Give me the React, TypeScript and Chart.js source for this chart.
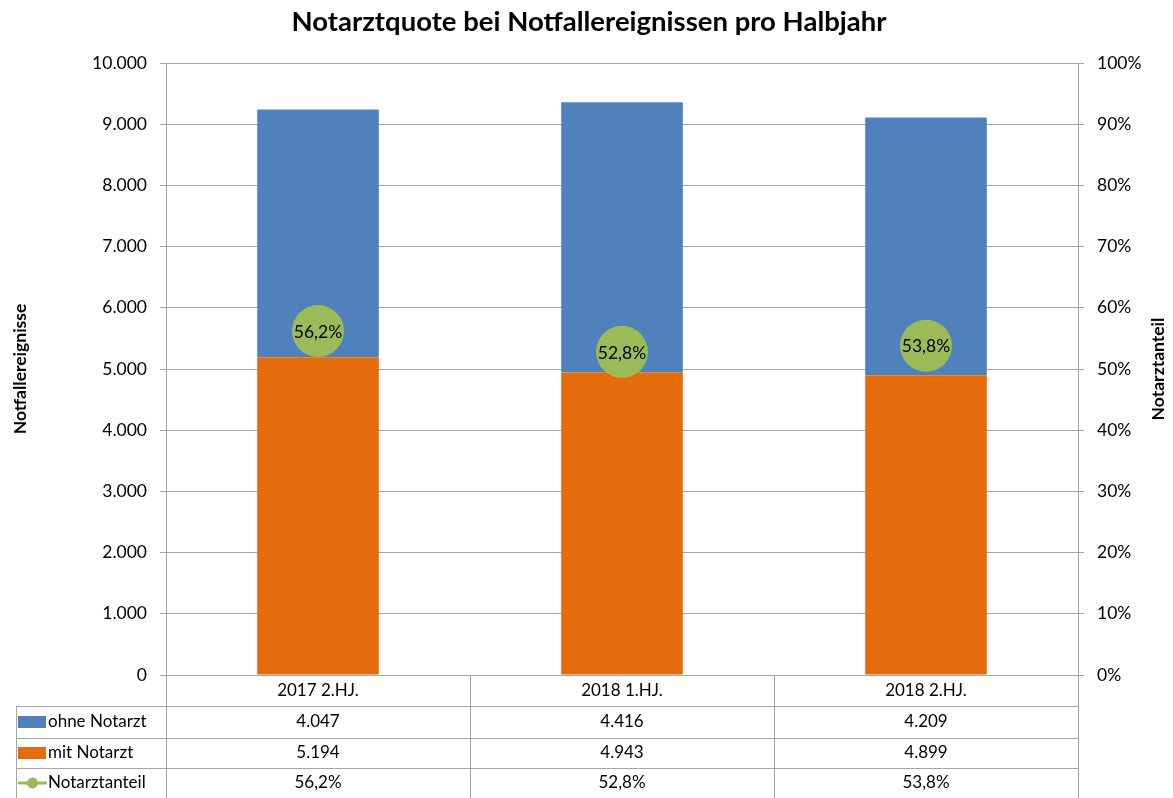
import React, { useEffect, useRef } from "react";
import { Chart, registerables } from "chart.js";

Chart.register(...registerables);

const categories = ["2017 2.HJ.", "2018 1.HJ.", "2018 2.HJ."];
const ohneNotarzt = [4047, 4416, 4209];
const mitNotarzt = [5194, 4943, 4899];
const notarztanteil = [56.2, 52.8, 53.8];
const seriesNames = ["ohne Notarzt", "mit Notarzt", "Notarztanteil"];

const BLUE = "#4F81BD";
const ORANGE = "#E46C0A";
const GREEN = "#9BBB59";
const GRID = "#A6A6A6";
const FONT = "Lato, 'Open Sans', sans-serif";

const fmtThousands = (v: number) => {
  const s = Math.round(v).toString();
  return s.replace(/\B(?=(\d{3})+(?!\d))/g, ".");
};
const fmtPct = (v: number) => v.toFixed(1).replace(".", ",") + "%";

const tablePlugin = {
  id: "tablePlugin",
  afterDraw(chart: any) {
    const ctx = chart.ctx;
    const area = chart.chartArea;
    const x = chart.scales.x;
    const W = chart.width;
    const H = chart.height;
    ctx.save();

    // title
    ctx.fillStyle = "#000";
    ctx.font = `bold 27.5px ${FONT}`;
    ctx.textAlign = "center";
    ctx.textBaseline = "middle";
    ctx.fillText("Notarztquote bei Notfallereignissen pro Halbjahr", 589, 22);

    // axis titles
    ctx.font = `bold 17.5px ${FONT}`;
    ctx.save();
    ctx.translate(20, (area.top + area.bottom) / 2);
    ctx.rotate(-Math.PI / 2);
    ctx.fillText("Notfallereignisse", 0, 0);
    ctx.restore();
    ctx.save();
    ctx.translate(1158, (area.top + area.bottom) / 2);
    ctx.rotate(-Math.PI / 2);
    ctx.fillText("Notarztanteil", 0, 0);
    ctx.restore();

    // point labels
    const meta = chart.getDatasetMeta(2);
    ctx.font = `17.5px ${FONT}`;
    meta.data.forEach((pt: any, i: number) => {
      ctx.fillText(fmtPct(notarztanteil[i]), pt.x, pt.y + 1);
    });

    // table
    const top = area.bottom;
    const rowH = [31, 32, 30, 30];
    const rows: number[] = [top];
    rowH.forEach((h) => rows.push(rows[rows.length - 1] + h));
    const left0 = 16;
    const n = categories.length;
    const colW = (area.right - area.left) / n;
    ctx.strokeStyle = GRID;
    ctx.lineWidth = 1;
    ctx.beginPath();
    for (let c = 0; c <= n; c++) {
      const cx = Math.round(area.left + c * colW) + 0.5;
      ctx.moveTo(cx, top);
      ctx.lineTo(cx, H);
    }
    ctx.moveTo(left0 + 0.5, rows[1]);
    ctx.lineTo(left0 + 0.5, H);
    for (let r = 1; r <= 3; r++) {
      const ry = Math.round(rows[r]) + 0.5;
      ctx.moveTo(left0, ry);
      ctx.lineTo(area.right, ry);
    }
    ctx.stroke();

    ctx.fillStyle = "#000";
    ctx.font = `17px ${FONT}`;
    ctx.textAlign = "center";
    categories.forEach((c, i) => {
      const cx = x.getPixelForValue(i);
      const cy = (rows[0] + rows[1]) / 2;
      ctx.fillText(c, cx, cy);
    });
    const tableRows = [
      ohneNotarzt.map(fmtThousands),
      mitNotarzt.map(fmtThousands),
      notarztanteil.map(fmtPct),
    ];
    tableRows.forEach((vals, r) => {
      const cy = (rows[r + 1] + rows[r + 2]) / 2;
      vals.forEach((v, i) => {
        ctx.fillText(v, x.getPixelForValue(i), cy);
      });
      // legend keys
      ctx.textAlign = "left";
      if (r < 2) {
        ctx.fillStyle = r === 0 ? BLUE : ORANGE;
        ctx.fillRect(18, cy - 6, 28, 12);
      } else {
        ctx.strokeStyle = GREEN;
        ctx.lineWidth = 3;
        ctx.beginPath();
        ctx.moveTo(18, cy);
        ctx.lineTo(47, cy);
        ctx.stroke();
        ctx.fillStyle = GREEN;
        ctx.beginPath();
        ctx.arc(32.5, cy, 5.5, 0, Math.PI * 2);
        ctx.fill();
      }
      ctx.fillStyle = "#000";
      ctx.fillText(seriesNames[r], 48, cy);
      ctx.textAlign = "center";
    });

    ctx.restore();
  },
};

export default function App() {
  const ref = useRef<HTMLCanvasElement | null>(null);
  useEffect(() => {
    if (!ref.current) return;
    const chart = new Chart(ref.current, {
      type: "bar",
      data: {
        labels: categories,
        datasets: [
          {
            type: "bar",
            label: seriesNames[1],
            data: mitNotarzt,
            backgroundColor: ORANGE,
            stack: "s",
            yAxisID: "y",
            order: 1,
            categoryPercentage: 1,
            barPercentage: 0.4,
          },
          {
            type: "bar",
            label: seriesNames[0],
            data: ohneNotarzt,
            backgroundColor: BLUE,
            stack: "s",
            yAxisID: "y",
            order: 1,
            categoryPercentage: 1,
            barPercentage: 0.4,
          },
          {
            type: "line",
            label: seriesNames[2],
            data: notarztanteil,
            yAxisID: "y1",
            showLine: false,
            pointRadius: 26,
            pointHoverRadius: 26,
            pointBackgroundColor: GREEN,
            pointBorderColor: GREEN,
            pointBorderWidth: 0,
            backgroundColor: GREEN,
            borderColor: GREEN,
            order: 0,
          },
        ] as any,
      },
      options: {
        animation: false,
        responsive: false,
        devicePixelRatio: 1,
        layout: { padding: { top: 63, left: 0, right: 0, bottom: 0 } },
        plugins: {
          legend: { display: false },
          tooltip: { enabled: false },
          title: { display: false },
        },
        scales: {
          x: {
            stacked: true,
            offset: true,
            grid: { display: false, drawTicks: false },
            border: { display: true, color: GRID },
            ticks: { display: false },
            afterFit: (s: any) => {
              s.height = 123;
            },
          },
          y: {
            stacked: true,
            position: "left",
            min: 0,
            max: 10000,
            ticks: {
              stepSize: 1000,
              padding: 13,
              color: "#000",
              font: { family: FONT, size: 17.5 },
              callback: (v: any) => fmtThousands(Number(v)),
            },
            grid: { color: GRID, tickLength: 6, drawTicks: true },
            border: { display: true, color: GRID },
            afterFit: (s: any) => {
              s.width = 166;
            },
          },
          y1: {
            position: "right",
            min: 0,
            max: 100,
            ticks: {
              stepSize: 10,
              padding: 13,
              color: "#000",
              font: { family: FONT, size: 17.5 },
              callback: (v: any) => `${Math.round(Number(v))}%`,
            },
            grid: { drawOnChartArea: false, color: GRID, tickLength: 6, drawTicks: true },
            border: { display: true, color: GRID },
            afterFit: (s: any) => {
              s.width = 95;
            },
          },
        },
      } as any,
      plugins: [tablePlugin],
    });
    return () => chart.destroy();
  }, []);
  return (
    <div style={{ position: "absolute", left: 0, top: 0, width: 1173, height: 798, background: "#fff" }}>
      <canvas ref={ref} width={1173} height={798} style={{ display: "block" }} />
    </div>
  );
}
